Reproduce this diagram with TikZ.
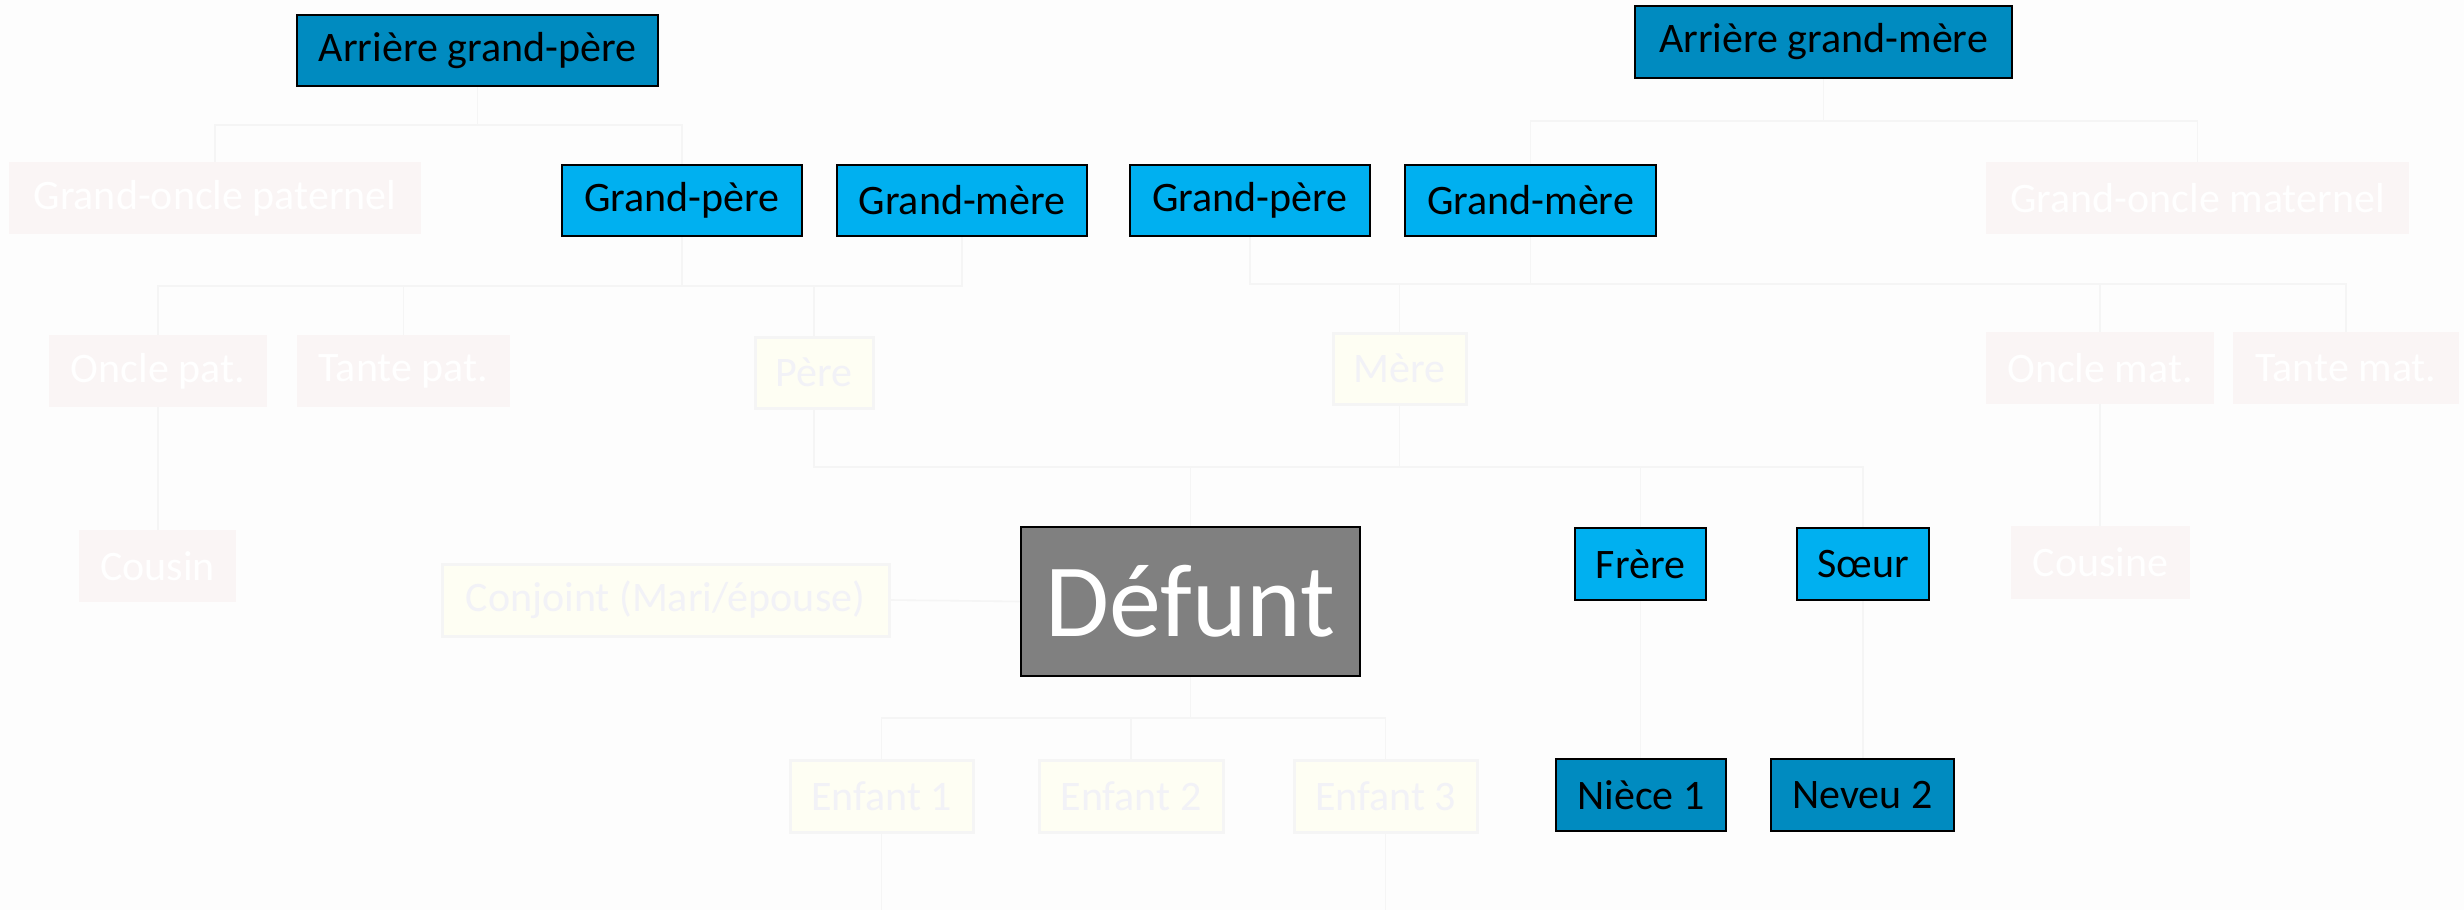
\documentclass[tikz,border=0pt]{standalone}
\usepackage{fontspec}
\setmainfont{Carlito}
\definecolor{bgc}{HTML}{FDFDFD}
\definecolor{darkb}{HTML}{008BC0}
\definecolor{lightb}{HTML}{00B0F0}
\definecolor{grayb}{HTML}{808080}
\definecolor{pinkf}{HTML}{FAF5F5}
\definecolor{yelf}{HTML}{FEFEF3}
\definecolor{yelline}{HTML}{F5F5F5}
\definecolor{yeltext}{HTML}{F2F2F7}
\definecolor{connc}{HTML}{F5F5F5}
\tikzset{
  base/.style={rectangle, inner sep=0pt, font=\fontsize{21pt}{25pt}\selectfont},
  darkbox/.style={base, fill=darkb, draw=black, line width=1pt, text=black},
  lightbox/.style={base, fill=lightb, draw=black, line width=1pt, text=black},
  pinkbox/.style={base, fill=pinkf, text=white},
  yelbox/.style={base, fill=yelf, draw=yelline, line width=1.5pt, text=yeltext},
  deadbox/.style={rectangle, inner sep=0pt, fill=grayb, draw=black, line width=1.2pt, text=white, font=\fontsize{52pt}{60pt}\selectfont},
  conn/.style={draw=connc, line width=0.8pt}
}
\begin{document}
\begin{tikzpicture}[x=0.5pt, y=-0.5pt]
\fill[bgc] (0,0) rectangle (2464,910);
\useasboundingbox (0,0) rectangle (2464,910);

% nodes
\node[darkbox, minimum width=180.5pt, minimum height=35.5pt] (agp) at (477.5,50.5) {Arrière grand-père};
\node[darkbox, minimum width=188.5pt, minimum height=36pt] (agm) at (1823.5,42) {Arrière grand-mère};
\node[pinkbox, minimum width=206pt, minimum height=36pt] (gop) at (215,198) {Grand-oncle paternel};
\node[lightbox, minimum width=120pt, minimum height=35.5pt] (gp1) at (682,200.5) {Grand-père};
\node[lightbox, minimum width=125pt, minimum height=35.5pt] (gm1) at (962,200.5) {Grand-mère};
\node[lightbox, minimum width=120pt, minimum height=35.5pt] (gp2) at (1250,200.5) {Grand-père};
\node[lightbox, minimum width=125.5pt, minimum height=35.5pt] (gm2) at (1530.5,200.5) {Grand-mère};
\node[pinkbox, minimum width=211.5pt, minimum height=36pt] (gom) at (2197.5,198) {Grand-oncle maternel};
\node[pinkbox, minimum width=109pt, minimum height=36pt] (op) at (158,371) {Oncle pat.};
\node[pinkbox, minimum width=106.5pt, minimum height=36pt] (tp) at (403.5,371) {Tante pat.};
\node[yelbox, minimum width=59pt, minimum height=35.5pt] (pere) at (814,372.5) {Père};
\node[yelbox, minimum width=66.5pt, minimum height=35.5pt] (mere) at (1399.5,368.5) {Mère};
\node[pinkbox, minimum width=114pt, minimum height=36pt] (om) at (2100,368) {Oncle mat.};
\node[pinkbox, minimum width=113pt, minimum height=36pt] (tm) at (2346,368) {Tante mat.};
\node[pinkbox, minimum width=78.5pt, minimum height=36pt] (cousin) at (157.5,566) {Cousin};
\node[yelbox, minimum width=223.5pt, minimum height=36pt] (conj) at (665.5,600) {Conjoint (Mari/épouse)};
\node[deadbox, minimum width=169.5pt, minimum height=74.5pt] (defunt) at (1190.5,601.5) {Défunt};
\node[lightbox, minimum width=65.5pt, minimum height=36pt] (frere) at (1640.5,564) {Frère};
\node[lightbox, minimum width=66pt, minimum height=36pt] (soeur) at (1863,564) {Sœur};
\node[pinkbox, minimum width=89.5pt, minimum height=36.5pt] (cousine) at (2100.5,562.5) {Cousine};
\node[yelbox, minimum width=91.5pt, minimum height=36pt] (e1) at (881.5,796) {Enfant 1};
\node[yelbox, minimum width=92pt, minimum height=36pt] (e2) at (1131,796) {Enfant 2};
\node[yelbox, minimum width=91.5pt, minimum height=36pt] (e3) at (1385.5,796) {Enfant 3};
\node[darkbox, minimum width=85pt, minimum height=36pt] (niece) at (1641,795) {Nièce 1};
\node[darkbox, minimum width=91.5pt, minimum height=36pt] (neveu) at (1862.5,795) {Neveu 2};

% junctions
\coordinate (jagp) at (477.5,125);
\coordinate (jagm) at (1823.5,121);
\coordinate (jp1) at (682,286);
\coordinate (jp2) at (1250,284);
\coordinate (jpm) at (814,467);
\coordinate (jd) at (1190.5,718);
\coordinate (b1) at (881.5,910);
\coordinate (b3) at (1385.5,910);

% connectors
\draw[conn] (agp.south) -- (jagp);
\draw[conn] (gop.north) |- (jagp) -| (gp1.north);
\draw[conn] (agm.south) -- (jagm);
\draw[conn] (gm2.north) |- (jagm) -| (gom.north);

\draw[conn] (op.north) |- (jp1) -| (gm1.south);
\draw[conn] (gp1.south) -- (jp1);
\draw[conn] (tp.north) -- (tp.north |- jp1);
\draw[conn] (pere.north) -- (pere.north |- jp1);

\draw[conn] (gp2.south) -- (jp2) -| (tm.north);
\draw[conn] (gm2.south) -- (gm2.south |- jp2);
\draw[conn] (mere.north) -- (mere.north |- jp2);
\draw[conn] (om.north) -- (om.north |- jp2);

\draw[conn] (op.south) -- (op.south |- cousin.north);
\draw[conn] (om.south) -- (om.south |- cousine.north);

\draw[conn] (pere.south) -- (jpm) -| (soeur.north);
\draw[conn] (mere.south) -- (mere.south |- jpm);
\draw[conn] (defunt.north) -- (defunt.north |- jpm);
\draw[conn] (frere.north) -- (frere.north |- jpm);

\draw[conn] (conj.east) -- (defunt.west);

\draw[conn] (defunt.south) -- (jd);
\draw[conn] (e1.north) |- (jd) -| (e3.north);
\draw[conn] (e2.north) -- (e2.north |- jd);
\draw[conn] (e1.south) -- (b1);
\draw[conn] (e3.south) -- (b3);

\draw[conn] (frere.south) -- (frere.south |- niece.north);
\draw[conn] (soeur.south) -- (soeur.south |- neveu.north);
\end{tikzpicture}
\end{document}
